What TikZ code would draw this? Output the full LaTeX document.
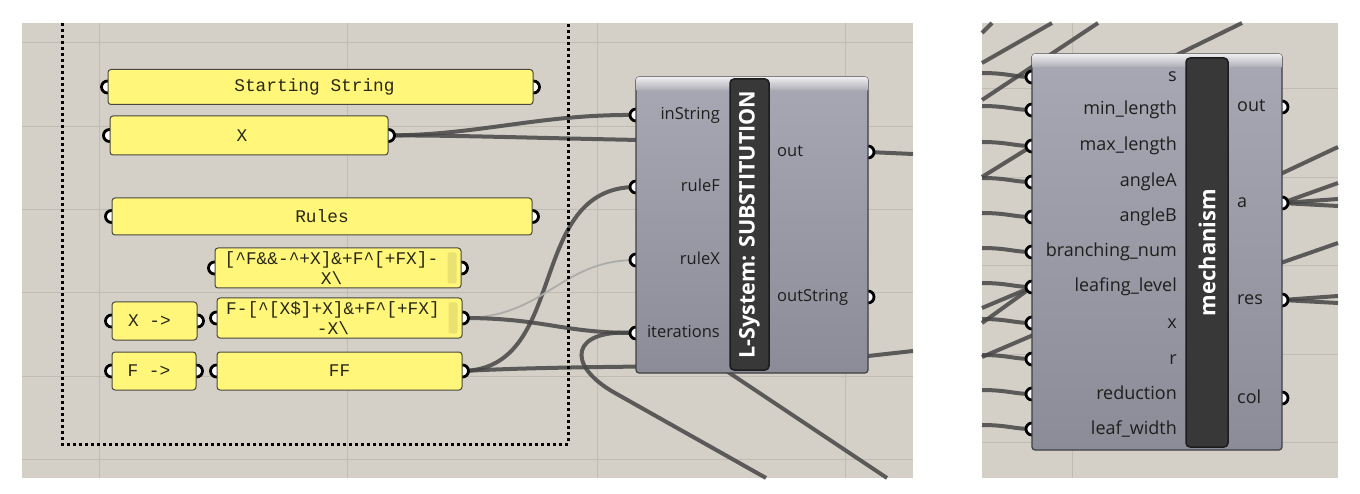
\documentclass[tikz,border=0pt]{standalone}
\usepackage{fontspec}
\setmainfont{Open Sans}
\newfontfamily\panelfont{Liberation Mono}

\definecolor{canvascol}{RGB}{212,208,200}
\definecolor{gridcol}{RGB}{192,188,180}
\definecolor{panelfill}{RGB}{255,246,122}
\definecolor{panelline}{RGB}{72,72,62}
\definecolor{paneltext}{RGB}{40,40,24}
\definecolor{scrollfill}{RGB}{234,226,112}
\definecolor{wirecol}{RGB}{70,70,70}
\definecolor{ghostcol}{RGB}{172,172,170}
\definecolor{comptop}{RGB}{168,168,180}
\definecolor{compbot}{RGB}{140,140,152}
\definecolor{compline}{RGB}{62,62,66}
\definecolor{headtop}{RGB}{238,238,240}
\definecolor{headbot}{RGB}{172,172,182}
\definecolor{barfill}{RGB}{56,56,56}
\definecolor{barline}{RGB}{28,28,28}
\definecolor{labeltext}{RGB}{30,30,30}

\pgfdeclarelayer{back}
\pgfdeclarelayer{wires}
\pgfdeclarelayer{grips}
\pgfsetlayers{back,wires,grips,main}

\begin{document}
\begin{tikzpicture}
  [x=1pt,y=-1pt,
   gridline/.style={draw=gridcol,line width=1pt},
   groupframe/.style={draw=black,line width=3pt,dash pattern=on 3pt off 3pt},
   panel/.style={draw=panelline,fill=panelfill,rounded corners=3pt,line width=1pt,
     inner sep=0pt,align=center,text=paneltext,font=\panelfont\fontsize{17.8}{20}\selectfont},
   comp/.style={draw=compline,top color=comptop,bottom color=compbot,rounded corners=3pt,
     line width=1.2pt,inner sep=0pt},
   bar/.style={draw=barline,fill=barfill,rounded corners=4pt,line width=1.5pt,inner sep=0pt,
     text=white,font=\bfseries\fontsize{21.5}{24}\selectfont},
   lbl/.style={inner sep=0pt,text=labeltext,text height=12pt,text depth=3pt,
     font=\fontsize{16.5}{18}\selectfont},
   lblbig/.style={lbl,text height=13pt,font=\fontsize{18}{20}\selectfont},
   grip/.style={draw=black,fill=white,line width=2.8pt},
   wire/.style={draw=wirecol,line width=4pt,opacity=.85},
   ghost/.style={draw=ghostcol,line width=1.8pt}]
  \useasboundingbox (0,0) rectangle (1360,494);

  \begin{pgfonlayer}{back}
    \fill[canvascol] (22,23) rectangle (913,478);
    \fill[canvascol] (982,23) rectangle (1338,478);
    \foreach \x in {99,347,597,845} \draw[gridline] (\x,23) -- (\x,478);
    \foreach \y in {43,127,210,293,376,459} \draw[gridline] (22,\y) -- (913,\y);
    \draw[gridline] (1072,23) -- (1072,478);
    \foreach \y in {89,178,266,354,442} \draw[gridline] (982,\y) -- (1338,\y);
  \end{pgfonlayer}

  % group of panels
  \coordinate (g0) at (62,23);
  \coordinate (g1) at (62,444);
  \coordinate (g2) at (568,444);
  \coordinate (g3) at (568,23);
  \draw[groupframe] (g0) -- (g1) -- (g2) -- (g3);

  \node[panel,minimum width=425pt,minimum height=35pt] (p0) at (320.5,87) {Starting String\hspace*{12pt}};
  \node[panel,minimum width=278pt,minimum height=39pt] (p1) at (249,135.5) {X\hspace*{14pt}};
  \node[panel,minimum width=420pt,minimum height=37pt] (p2) at (322,216.5) {Rules};
  \node[panel,minimum width=246pt,minimum height=40pt] (p3) at (338,268)
    {[\textasciicircum F\&\&-\textasciicircum+X]\&+F\textasciicircum[+FX]-\hspace*{13pt}\\X\textbackslash\hspace*{13pt}};
  \node[panel,minimum width=85pt,minimum height=38pt] (p4) at (154.5,321) {X ->\hspace*{10pt}};
  \node[panel,minimum width=245pt,minimum height=40pt] (p5) at (339.5,318)
    {F-[\textasciicircum[X\$]+X]\&+F\textasciicircum[+FX]\hspace*{13pt}\\-X\textbackslash\hspace*{13pt}};
  \node[panel,minimum width=84pt,minimum height=38pt] (p6) at (154,371) {F ->\hspace*{10pt}};
  \node[panel,minimum width=245pt,minimum height=38pt] (p7) at (339.5,371) {FF};
  \foreach \p in {p3,p5}
    \fill[scrollfill,rounded corners=2pt] ([xshift=-14pt,yshift=-5pt]\p.north east)
      rectangle ([xshift=-5pt,yshift=5pt]\p.south east);

  % L-System component
  \node[comp,minimum width=232pt,minimum height=296pt] (c0) at (752,225) {};
  \shade[top color=headtop,bottom color=headbot,rounded corners=2.5pt]
    ([xshift=.6pt,yshift=-14pt]c0.north west) -- ([xshift=.6pt,yshift=-.6pt]c0.north west)
    -- ([xshift=-.6pt,yshift=-.6pt]c0.north east) -- ([xshift=-.6pt,yshift=-14pt]c0.north east);
  \node[bar,rotate=90,minimum width=291pt,minimum height=39pt] (c0b) at (749.5,224.5)
    {L-System: SUBSTITUTION};
  \foreach \n/\y/\t in {i0/115/inString,i1/187/ruleF,i2/260/ruleX,i3/333/iterations} {
    \coordinate (\n) at (636,\y);
    \node[lbl,anchor=east] (l\n) at (720,\y) {\t};
  }
  \foreach \n/\y/\t in {o0/152/out,o1/297/outString} {
    \coordinate (\n) at (868,\y);
    \node[lbl,anchor=west] (l\n) at (777,\y) {\t};
  }

  % mechanism component
  \node[comp,minimum width=250pt,minimum height=396pt] (c1) at (1157,252) {};
  \shade[top color=headtop,bottom color=headbot,rounded corners=2.5pt]
    ([xshift=.6pt,yshift=-14pt]c1.north west) -- ([xshift=.6pt,yshift=-.6pt]c1.north west)
    -- ([xshift=-.6pt,yshift=-.6pt]c1.north east) -- ([xshift=-.6pt,yshift=-14pt]c1.north east);
  \node[bar,rotate=90,minimum width=389pt,minimum height=42pt,
    font=\bfseries\fontsize{22}{24}\selectfont] (c1b) at (1207,252.5) {mechanism};
  \foreach \y/\t [count=\k] in {77/s,110/min\_length,146/max\_length,182/angleA,217/angleB,
      252/branching\_num,287/leafing\_level,323/x,359/r,394/reduction,429/leaf\_width} {
    \coordinate (m\k) at (1032,\y);
    \coordinate (w\k) at (982,\y-4);
    \node[lblbig,anchor=east] (ml\k) at (1177,\y) {\t};
  }
  \foreach \y/\t [count=\k] in {107/out,203/a,300/res,398/col} {
    \coordinate (q\k) at (1282,\y);
    \node[lblbig,anchor=west] (ql\k) at (1237,\y) {\t};
  }

  % free ends of wires
  \coordinate (h0) at (700,141);
  \coordinate (h1) at (700,366);
  \coordinate (h2) at (766,478);
  \coordinate (h3) at (722,368);
  \coordinate (h4) at (887,478);
  \coordinate (h5) at (850,358);
  \coordinate (e0) at (913,154);
  \coordinate (e1) at (913,351);

  \begin{pgfonlayer}{wires}
    \draw[wire] (p1.east) .. controls (480,135) and (540,114) .. (i0);
    \draw[wire] (p1.east) .. controls (460,135) and (560,139) .. (h0);
    \draw[wire] (p7.east) .. controls (570,369) and (525,187) .. (i1);
    \draw[ghost] (p5.east) .. controls (545,318) and (560,260) .. (i2);
    \draw[wire] (p5.east) .. controls (545,318) and (560,333) .. (i3);
    \draw[wire] (p7.east) .. controls (520,368) and (580,367) .. (h1);
    \draw[wire] (i3) .. controls (570,328) and (565,365) .. (615,393) -- (h2);
    \draw[wire] (h3) -- (h4);
    \draw[wire] (o0) -- (e0);
    \draw[wire] (h5) -- (e1);
    \foreach \k in {1,...,11}
      \draw[wire] (w\k) .. controls +(25,0) and +(-18,0) .. (m\k);
    \foreach \xa/\ya/\xb/\yb in {982/33/992/23,982/63/1052/23,982/100/1098/23,
        1150/68/1242/23,982/357/1045/330,1272/178/1338/147,1272/266/1338/243}
      \draw[wire] (\xa,\ya) -- (\xb,\yb);
    \coordinate (t0) at (982,177);
    \coordinate (t1) at (982,308);
    \coordinate (t2) at (982,323);
    \draw[wire] (t0) -- (m3);
    \draw[wire] (t1) -- (m7);
    \draw[wire] (t2) -- (m7);
    \coordinate (u0) at (1338,183);
    \coordinate (u1) at (1338,199);
    \coordinate (u2) at (1338,206);
    \coordinate (u3) at (1338,296);
    \coordinate (u4) at (1338,303);
    \foreach \to in {u0,u1,u2} \draw[wire] (q2) -- (\to);
    \foreach \to in {u3,u4} \draw[wire] (q3) -- (\to);
  \end{pgfonlayer}

  \begin{pgfonlayer}{grips}
    \foreach \p in {p0,p1,p2,p3,p4,p5,p6,p7} {
      \draw[grip] (\p.west) circle (6pt);
      \draw[grip] (\p.east) circle (6pt);
    }
    \foreach \g in {i0,i1,i2,i3,o0,o1,m1,m2,m3,m4,m5,m6,m7,m8,m9,m10,m11,q1,q2,q3,q4}
      \draw[grip] (\g) circle (6pt);
  \end{pgfonlayer}
\end{tikzpicture}
\end{document}
